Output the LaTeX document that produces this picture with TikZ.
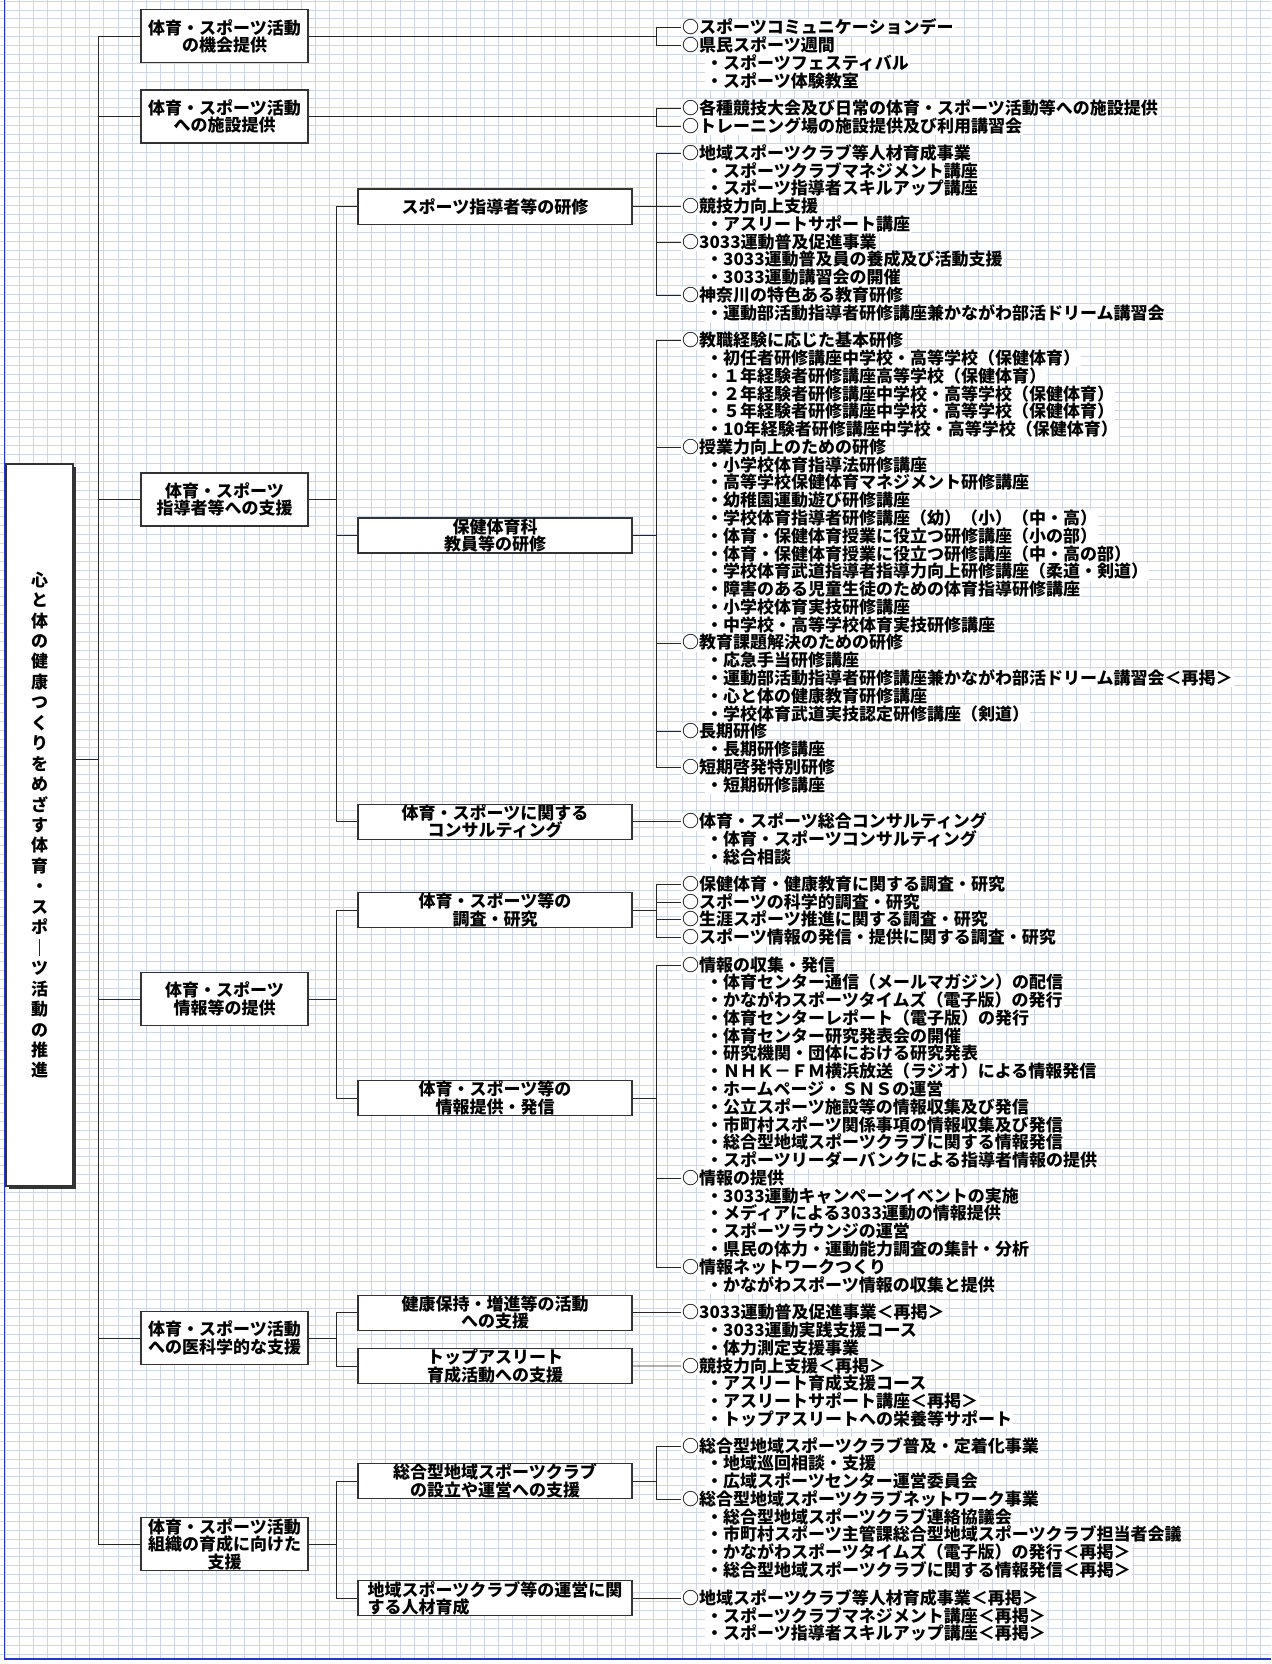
\documentclass[tikz,border=0pt]{standalone}
\usepackage{fontspec}
\setmainfont{Noto Sans CJK JP}
\usetikzlibrary{shadows}
\definecolor{gridline}{RGB}{205,213,233}
\definecolor{frameblue}{RGB}{35,55,205}
\tikzset{every node/.style={font=\fontsize{17}{17.4}\selectfont\bfseries},
box/.style={ % boxes of the tree
draw=black!80,
line width=1.2pt,
fill=white,
align=center,
inner sep=0pt},
topbox/.style={box, minimum width=167pt, minimum height=53pt},
midbox/.style={box, minimum width=274pt, minimum height=35pt},
leaf/.style={ % one line of the lists on the right
anchor=west,
fill=white,
inner xsep=1pt, inner ysep=0.3pt,
text height=14.5pt, text depth=2.5pt},
leafo/.style={leaf, execute at begin node={○}},
leafs/.style={leaf, xshift=24pt, execute at begin node={・}},
link/.style={draw=black!85, line width=0.9pt}}
\newcommand\leaves[3]{% name, y of first line, kind/text
\foreach \k/\t [count=\i from 0] in {#3}
\node[leaf\k] (#1\i) at (681,{#2+\i*17.78}) {\t};}

\begin{document}
\begin{tikzpicture}[x=1pt, y=-1pt]
\useasboundingbox (0,0) rectangle (1271,1664);
\fill[white] (0,0) rectangle (1271,1664);
% sheet grid
\foreach \gx in {5,19.1,...,1271} \draw[gridline, line width=0.6pt] (\gx,0) -- (\gx,1659);
\foreach \gy in {1,9.89,...,1659} \draw[gridline, line width=0.6pt] (0,\gy) -- (1271,\gy);
\draw[frameblue, line width=1.6pt] (4.5,0) -- (4.5,1659) -- (1271,1659);

\coordinate (tx1) at (98,0);
\coordinate (tx2) at (336,0);
\coordinate (bx) at (656,0);

\node[box, line width=1.4pt, minimum width=67pt, minimum height=722pt,
  font=\fontsize{17}{20.45}\selectfont\bfseries,
  drop shadow={shadow xshift=3pt, shadow yshift=-3pt, fill=black!80, opacity=1}]
  (root) at (39.5,825) {心\\と\\体\\の\\健\\康\\つ\\く\\り\\を\\め\\ざ\\す\\体\\育\\・\\ス\\ポ\\｜\\ツ\\活\\動\\の\\推\\進};

\node[topbox] (opp) at (224.5,36.3) {体育・スポーツ活動\\の機会提供};
\node[topbox] (fac) at (224.5,116.5) {体育・スポーツ活動\\への施設提供};
\node[topbox] (ldr) at (224.5,499.5) {体育・スポーツ\\指導者等への支援};
\node[topbox] (inf) at (224.5,999) {体育・スポーツ\\情報等の提供};
\node[topbox] (med) at (224.5,1338) {体育・スポーツ活動\\への医科学的な支援};
\node[topbox] (org) at (224.5,1544) {体育・スポーツ活動\\組織の育成に向けた\\支援};

\node[midbox] (trn) at (495,206.6) {スポーツ指導者等の研修};
\node[midbox] (tch) at (495,535.5) {保健体育科\\教員等の研修};
\node[midbox] (cns) at (495,821.7) {体育・スポーツに関する\\コンサルティング};
\node[midbox] (rsc) at (495,910) {体育・スポーツ等の\\調査・研究};
\node[midbox] (pub) at (495,1098) {体育・スポーツ等の\\情報提供・発信};
\node[midbox] (hlt) at (495,1312.7) {健康保持・増進等の活動\\への支援};
\node[midbox] (ath) at (495,1366) {トップアスリート\\育成活動への支援};
\node[midbox] (clb) at (495,1481) {総合型地域スポーツクラブ\\の設立や運営への支援};
\node[midbox, align=left] (hrd) at (495,1598.3) {地域スポーツクラブ等の運営に関\\する人材育成};

% lists
\leaves{A}{27.7}{o/スポーツコミュニケーションデー, o/県民スポーツ週間, s/スポーツフェスティバル, s/スポーツ体験教室}
\leaves{B}{108.3}{o/各種競技大会及び日常の体育・スポーツ活動等への施設提供, o/トレーニング場の施設提供及び利用講習会}
\leaves{C}{153.3}{o/地域スポーツクラブ等人材育成事業, s/スポーツクラブマネジメント講座, s/スポーツ指導者スキルアップ講座, o/競技力向上支援, s/アスリートサポート講座, o/3033運動普及促進事業, s/3033運動普及員の養成及び活動支援, s/3033運動講習会の開催, o/神奈川の特色ある教育研修, s/運動部活動指導者研修講座兼かながわ部活ドリーム講習会}
\leaves{D}{340.7}{o/教職経験に応じた基本研修, s/初任者研修講座中学校・高等学校（保健体育）, s/１年経験者研修講座高等学校（保健体育）, s/２年経験者研修講座中学校・高等学校（保健体育）, s/５年経験者研修講座中学校・高等学校（保健体育）, s/10年経験者研修講座中学校・高等学校（保健体育）, o/授業力向上のための研修, s/小学校体育指導法研修講座, s/高等学校保健体育マネジメント研修講座, s/幼稚園運動遊び研修講座, s/学校体育指導者研修講座（幼）（小）（中・高）, s/体育・保健体育授業に役立つ研修講座（小の部）, s/体育・保健体育授業に役立つ研修講座（中・高の部）, s/学校体育武道指導者指導力向上研修講座（柔道・剣道）, s/障害のある児童生徒のための体育指導研修講座, s/小学校体育実技研修講座, s/中学校・高等学校体育実技研修講座, o/教育課題解決のための研修, s/応急手当研修講座, s/運動部活動指導者研修講座兼かながわ部活ドリーム講習会＜再掲＞, s/心と体の健康教育研修講座, s/学校体育武道実技認定研修講座（剣道）, o/長期研修, s/長期研修講座, o/短期啓発特別研修, s/短期研修講座}
\leaves{E}{821.7}{o/体育・スポーツ総合コンサルティング, s/体育・スポーツコンサルティング, s/総合相談}
\leaves{F}{884.3}{o/保健体育・健康教育に関する調査・研究, o/スポーツの科学的調査・研究, o/生涯スポーツ推進に関する調査・研究, o/スポーツ情報の発信・提供に関する調査・研究}
\leaves{G}{965}{o/情報の収集・発信, s/体育センター通信（メールマガジン）の配信, s/かながわスポーツタイムズ（電子版）の発行, s/体育センターレポート（電子版）の発行, s/体育センター研究発表会の開催, s/研究機関・団体における研究発表, s/ＮＨＫ－ＦＭ横浜放送（ラジオ）による情報発信, s/ホームページ・ＳＮＳの運営, s/公立スポーツ施設等の情報収集及び発信, s/市町村スポーツ関係事項の情報収集及び発信, s/総合型地域スポーツクラブに関する情報発信, s/スポーツリーダーバンクによる指導者情報の提供, o/情報の提供, s/3033運動キャンペーンイベントの実施, s/メディアによる3033運動の情報提供, s/スポーツラウンジの運営, s/県民の体力・運動能力調査の集計・分析, o/情報ネットワークつくり, s/かながわスポーツ情報の収集と提供}
\leaves{H}{1312.7}{o/3033運動普及促進事業＜再掲＞, s/3033運動実践支援コース, s/体力測定支援事業, o/競技力向上支援＜再掲＞, s/アスリート育成支援コース, s/アスリートサポート講座＜再掲＞, s/トップアスリートへの栄養等サポート}
\leaves{I}{1446}{o/総合型地域スポーツクラブ普及・定着化事業, s/地域巡回相談・支援, s/広域スポーツセンター運営委員会, o/総合型地域スポーツクラブネットワーク事業, s/総合型地域スポーツクラブ連絡協議会, s/市町村スポーツ主管課総合型地域スポーツクラブ担当者会議, s/かながわスポーツタイムズ（電子版）の発行＜再掲＞, s/総合型地域スポーツクラブに関する情報発信＜再掲＞}
\leaves{J}{1598.3}{o/地域スポーツクラブ等人材育成事業＜再掲＞, s/スポーツクラブマネジメント講座＜再掲＞, s/スポーツ指導者スキルアップ講座＜再掲＞}

% level 1
\coordinate (rexit) at (root.east |- 0,759);
\draw[link] (rexit) -- (tx1 |- rexit);
\draw[link] (tx1 |- opp) -- (tx1 |- org);
\foreach \n in {opp,fac,ldr,inf,med,org} \draw[link] (\n) -- (tx1 |- \n);
% level 2
\draw[link] (ldr) -- (tx2 |- ldr);
\draw[link] (tx2 |- trn) -- (tx2 |- cns);
\foreach \n in {trn,tch,cns} \draw[link] (\n) -- (tx2 |- \n);
\draw[link] (inf) -- (tx2 |- inf);
\draw[link] (tx2 |- rsc) -- (tx2 |- pub);
\foreach \n in {rsc,pub} \draw[link] (\n) -- (tx2 |- \n);
\draw[link] (med) -- (tx2 |- med);
\draw[link] (tx2 |- hlt) -- (tx2 |- ath);
\foreach \n in {hlt,ath} \draw[link] (\n) -- (tx2 |- \n);
\draw[link] (org) -- (tx2 |- org);
\draw[link] (tx2 |- clb) -- (tx2 |- hrd);
\foreach \n in {clb,hrd} \draw[link] (\n) -- (tx2 |- \n);
% to the lists
\draw[link] (opp) -- (bx |- opp);
\draw[link] (bx |- A0) -- (bx |- A1);
\foreach \n in {A0,A1} \draw[link] (\n) -- (bx |- \n);
\draw[link] (fac) -- (bx |- fac);
\draw[link] (bx |- B0) -- (bx |- B1);
\foreach \n in {B0,B1} \draw[link] (\n) -- (bx |- \n);
\draw[link] (trn) -- (bx |- trn);
\draw[link] (bx |- C0) -- (bx |- C8);
\foreach \n in {C0,C3,C5,C8} \draw[link] (\n) -- (bx |- \n);
\draw[link] (tch) -- (bx |- tch);
\draw[link] (bx |- D0) -- (bx |- D24);
\foreach \n in {D0,D6,D17,D22,D24} \draw[link] (\n) -- (bx |- \n);
\draw[link] (cns) -- (E0);
\draw[link] (rsc) -- (bx |- rsc);
\draw[link] (bx |- F0) -- (bx |- F3);
\foreach \n in {F0,F1,F2,F3} \draw[link] (\n) -- (bx |- \n);
\draw[link] (pub) -- (bx |- pub);
\draw[link] (bx |- G0) -- (bx |- G17);
\foreach \n in {G0,G12,G17} \draw[link] (\n) -- (bx |- \n);
\draw[link] (hlt) -- (H0);
\draw[link] (ath) -- (H3);
\draw[link] (clb) -- (bx |- clb);
\draw[link] (bx |- I0) -- (bx |- I3);
\foreach \n in {I0,I3} \draw[link] (\n) -- (bx |- \n);
\draw[link] (hrd) -- (J0);
\end{tikzpicture}
\end{document}
